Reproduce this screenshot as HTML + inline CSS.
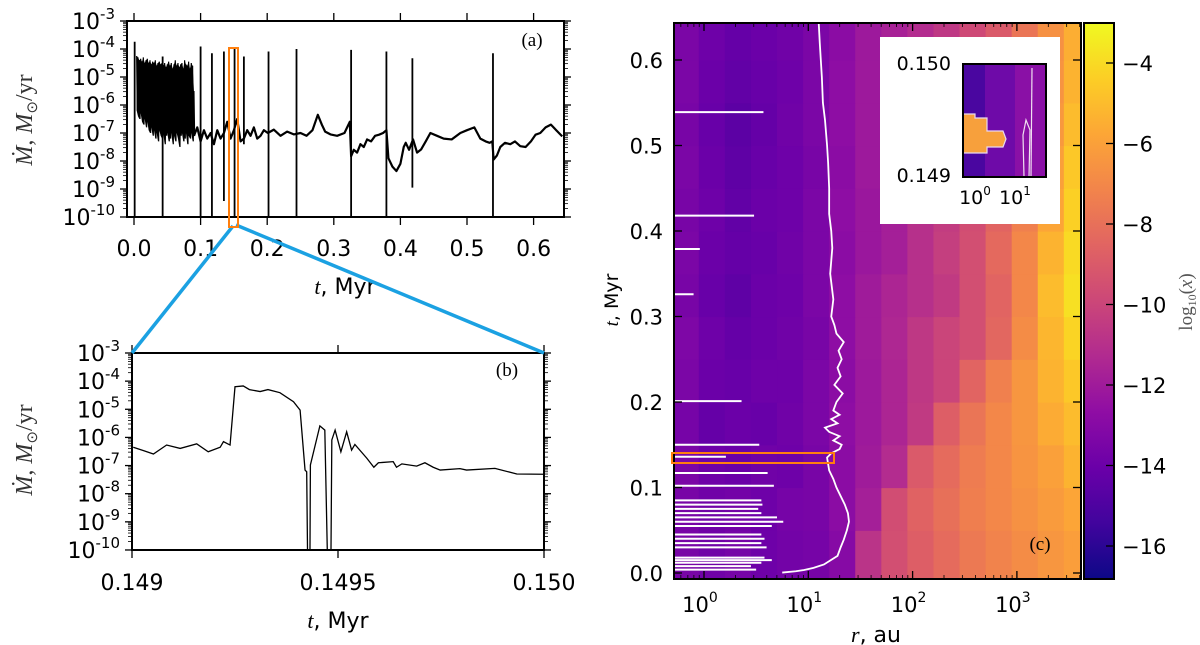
<!DOCTYPE html>
<html><head><meta charset="utf-8">
<style>
html,body{margin:0;padding:0;background:#fff;}
svg{display:block;font-family:"DejaVu Sans","Liberation Sans",sans-serif;}
</style></head>
<body>
<svg id="fig" width="1200" height="645" viewBox="0 0 1200 645" xmlns="http://www.w3.org/2000/svg">
<defs>
<linearGradient id="plasmaV" x1="0" y1="1" x2="0" y2="0">
<stop offset="0" stop-color="#0d0887"/><stop offset="0.1" stop-color="#41049d"/><stop offset="0.2" stop-color="#6a00a8"/><stop offset="0.3" stop-color="#8f0da4"/><stop offset="0.4" stop-color="#b12a90"/><stop offset="0.5" stop-color="#cc4778"/><stop offset="0.6" stop-color="#e16462"/><stop offset="0.7" stop-color="#f2844b"/><stop offset="0.8" stop-color="#fca636"/><stop offset="0.9" stop-color="#fcce25"/><stop offset="1" stop-color="#f0f921"/>
</linearGradient>
<clipPath id="clipA"><rect x="127" y="21" width="437" height="196"/></clipPath>
<clipPath id="clipB"><rect x="132" y="353" width="412" height="197"/></clipPath>
<clipPath id="clipC"><rect x="674" y="23" width="407" height="556"/></clipPath>
</defs>
<g id="panelA"></g>
<g id="panelB"></g>
<g id="panelC"></g>
</svg>
<script>
// ---------- Panel (a) data ----------
const noisyT  = [0.004,0.006,0.008,0.010,0.012,0.014,0.016,0.018,0.020,0.022,0.024,0.026,0.028,0.030,0.032,0.034,0.036,0.038,0.040,0.042,0.044,0.046,0.048,0.050,0.052,0.054,0.056,0.058,0.060,0.062,0.064,0.066,0.068,0.070,0.072,0.074,0.076,0.078,0.080,0.082,0.084,0.086,0.088,0.090];
const noisyHi = [-4.25,-4.3,-4.4,-4.35,-4.45,-4.3,-4.5,-4.4,-4.35,-4.5,-4.4,-4.55,-4.45,-4.5,-4.4,-4.6,-4.5,-4.45,-4.55,-4.5,-4.6,-4.5,-4.65,-4.55,-4.45,-4.6,-4.5,-4.7,-4.55,-4.4,-4.6,-4.5,-4.65,-4.55,-4.5,-4.7,-4.4,-4.55,-4.6,-4.45,-4.7,-4.5,-4.6,-5.5];
const noisyLo = [-6.2,-6.4,-6.5,-6.3,-6.6,-6.7,-6.5,-6.8,-6.6,-6.9,-7.0,-6.8,-7.1,-6.9,-7.2,-7.0,-7.3,-6.9,-7.1,-7.2,-7.0,-7.4,-7.1,-7.0,-7.3,-7.2,-7.0,-7.4,-7.1,-7.3,-7.0,-7.2,-7.5,-7.1,-7.0,-7.3,-7.2,-7.0,-7.4,-7.1,-7.2,-7.0,-7.3,-7.1];
const baseT = [0.090,0.095,0.100,0.105,0.110,0.115,0.120,0.125,0.130,0.135,0.140,0.145,0.150,0.155,0.160,0.165,0.170,0.175,0.180,0.185,0.190,0.195,0.201,0.210,0.220,0.230,0.240,0.250,0.259,0.268,0.276,0.282,0.287,0.295,0.305,0.316,0.324,0.326,0.330,0.335,0.340,0.345,0.350,0.356,0.362,0.368,0.374,0.379,0.382,0.388,0.394,0.400,0.405,0.408,0.413,0.419,0.425,0.431,0.438,0.445,0.455,0.465,0.477,0.490,0.500,0.511,0.520,0.528,0.534,0.538,0.540,0.545,0.550,0.557,0.565,0.572,0.580,0.588,0.596,0.603,0.610,0.618,0.626,0.634,0.643];
const baseL = [-7.1,-6.8,-7.3,-6.9,-7.2,-7.0,-7.4,-6.9,-7.2,-7.0,-6.6,-7.2,-6.9,-6.5,-7.3,-7.2,-6.9,-7.1,-6.8,-7.2,-7.1,-6.9,-7.0,-6.88,-7.1,-6.95,-7.05,-7.0,-7.1,-6.9,-6.35,-6.7,-6.95,-7.05,-7.1,-7.0,-6.6,-7.83,-7.6,-7.7,-7.4,-7.5,-7.23,-7.3,-7.1,-7.06,-7.0,-6.9,-7.9,-8.2,-8.36,-8.1,-7.5,-7.35,-7.6,-7.23,-7.7,-7.59,-7.3,-7.0,-7.1,-7.2,-7.23,-7.0,-6.9,-6.8,-7.2,-7.3,-7.35,-7.3,-7.95,-7.8,-7.5,-7.35,-7.4,-7.3,-7.47,-7.5,-7.3,-7.06,-7.0,-6.8,-6.7,-6.9,-7.12];
const spikeT   = [0.001,0.043,0.100,0.117,0.135,0.151,0.165,0.202,0.244,0.326,0.379,0.418,0.539];
const spikeTop = [-3.74,-4.27,-3.91,-4.15,-4.09,-4.0,-4.27,-4.09,-4.0,-4.03,-4.09,-4.33,-4.15];
const spikeBot = [-10,-10,-10,-10,-9.43,-10,-7.4,-10,-10,-10,-10,-8.95,-10];
const ticksA_x = [0.0,0.1,0.2,0.3,0.4,0.5,0.6];
const ticksA_xLab = ["0.0","0.1","0.2","0.3","0.4","0.5","0.6"];
const decadesY = [-3,-4,-5,-6,-7,-8,-9,-10];
// ---------- Panel (b) data ----------
const bF = [0.003,0.028,0.052,0.084,0.117,0.157,0.185,0.214,0.222,0.238,0.250,0.270,0.285,0.311,0.330,0.359,0.392,0.408,0.420,0.424,0.426,0.430,0.432,0.433,0.456,0.468,0.474,0.477,0.481,0.483,0.485,0.493,0.507,0.521,0.533,0.541,0.570,0.587,0.598,0.634,0.642,0.655,0.691,0.711,0.731,0.748,0.796,0.812,0.881,0.934,0.998];
const bL = [-6.35,-6.47,-6.59,-6.27,-6.39,-6.23,-6.51,-6.35,-6.15,-6.27,-4.20,-4.17,-4.3,-4.37,-4.3,-4.41,-4.73,-5.03,-7.16,-7.22,-10,-10,-10,-6.98,-5.59,-5.74,-10,-10,-10,-10,-6.09,-5.74,-6.51,-5.80,-6.45,-6.25,-6.74,-7.06,-6.90,-6.86,-7.06,-6.94,-7.02,-6.90,-7.06,-7.16,-7.11,-7.16,-7.10,-7.30,-7.31];
const ticksB_x = [0,0.5,1];
const ticksB_xLab = ["0.149","0.1495","0.150"];
// ---------- Panel (c) data ----------
const colLogR = [-0.175,0.075,0.325,0.575,0.825,1.075,1.325,1.575,1.825,2.075,2.325,2.575,2.825,3.075,3.325,3.575];
const rowT = [0.025,0.075,0.125,0.175,0.225,0.275,0.325,0.375,0.425,0.475,0.525,0.575,0.625];
const heat = [
 [-13.5,-13.8,-13.6,-13.9,-13.7,-13.6,-13.0,-10.8,-9.5,-8.8,-8.2,-7.6,-7.2,-6.8,-6.4,-6.1],
 [-13.5,-13.8,-13.7,-13.9,-13.6,-13.5,-12.8,-11.8,-9.6,-8.6,-8.0,-7.4,-7.0,-6.6,-6.2,-5.8],
 [-13.4,-13.9,-14.0,-13.8,-13.9,-13.5,-12.8,-12.0,-11.2,-9.0,-8.2,-7.5,-7.0,-6.5,-6.0,-5.3],
 [-13.6,-14.2,-14.0,-14.1,-13.8,-13.4,-12.7,-12.1,-11.5,-10.5,-8.8,-7.8,-7.0,-6.4,-5.6,-5.0],
 [-13.4,-14.0,-14.1,-13.9,-13.9,-13.4,-12.8,-12.1,-11.5,-10.6,-10.0,-8.5,-7.3,-6.4,-5.3,-4.6],
 [-13.3,-13.9,-14.2,-14.0,-13.8,-13.5,-12.7,-12.0,-11.4,-10.6,-10.0,-9.5,-8.4,-6.8,-5.2,-4.2],
 [-13.5,-14.1,-14.4,-14.0,-13.9,-13.4,-12.7,-12.0,-11.5,-11.0,-10.5,-9.5,-8.5,-7.0,-5.0,-3.8],
 [-13.4,-14.0,-14.2,-14.1,-13.8,-13.4,-12.8,-12.2,-11.8,-11.0,-10.3,-9.5,-8.3,-7.0,-5.3,-4.0],
 [-13.5,-13.9,-14.3,-14.0,-13.9,-13.4,-12.7,-12.2,-11.8,-11.0,-10.4,-9.6,-8.5,-7.3,-5.8,-4.3],
 [-13.4,-14.0,-14.4,-14.1,-13.9,-13.5,-12.8,-12.1,-11.7,-11.0,-10.5,-9.7,-8.7,-7.5,-6.0,-4.6],
 [-13.5,-14.1,-14.5,-14.2,-13.8,-13.4,-12.7,-12.1,-11.6,-11.0,-10.5,-9.8,-8.8,-7.6,-6.3,-5.0],
 [-13.4,-14.0,-14.3,-14.1,-13.9,-13.4,-12.7,-12.1,-11.7,-11.1,-10.6,-9.8,-8.9,-7.7,-6.5,-5.3],
 [-13.4,-13.9,-14.2,-14.0,-13.8,-13.4,-12.8,-12.1,-11.7,-11.2,-10.6,-9.8,-9.0,-7.8,-6.6,-5.5]
];
const contourT = [0.0005,0.002,0.0035,0.006,0.01,0.02,0.03,0.039,0.05,0.06,0.07,0.08,0.09,0.1,0.11,0.12,0.135,0.14,0.145,0.15,0.155,0.16,0.165,0.17,0.175,0.18,0.185,0.19,0.2,0.21,0.22,0.23,0.24,0.25,0.26,0.27,0.28,0.29,0.3,0.32,0.35,0.38,0.4,0.42,0.45,0.48,0.5,0.53,0.55,0.58,0.6,0.62,0.643];
const contourLogR = [0.75,0.88,0.96,1.05,1.15,1.28,1.31,1.34,1.37,1.39,1.38,1.35,1.31,1.27,1.24,1.2,1.18,1.22,1.3,1.32,1.24,1.3,1.2,1.16,1.28,1.22,1.3,1.24,1.27,1.33,1.25,1.31,1.28,1.32,1.29,1.34,1.27,1.25,1.22,1.24,1.21,1.23,1.22,1.2,1.2,1.19,1.18,1.16,1.14,1.13,1.12,1.11,1.1];
const streakT = [0.539,0.418,0.379,0.326,0.201,0.150,0.136,0.117,0.102,0.085,0.080,0.075,0.070,0.065,0.060,0.055,0.045,0.040,0.035,0.030,0.018,0.015,0.012,0.008,0.004];
const streakLogR = [0.57,0.48,-0.04,-0.1,0.36,0.53,0.21,0.61,0.67,0.55,0.56,0.52,0.55,0.70,0.76,0.65,0.55,0.58,0.55,0.60,0.58,0.65,0.55,0.45,0.50];
const ticksC_t = [0.0,0.1,0.2,0.3,0.4,0.5,0.6];
const ticksC_tLab = ["0.0","0.1","0.2","0.3","0.4","0.5","0.6"];
const ticksC_r = [0,1,2,3];
const cbTicks = [-4,-6,-8,-10,-12,-14,-16];
const cbTickLab = ["\u22124","\u22126","\u22128","\u221210","\u221212","\u221214","\u221216"];

const NS="http://www.w3.org/2000/svg";
function mk(tag,attrs,parent){const e=document.createElementNS(NS,tag);for(const k in attrs)e.setAttribute(k,attrs[k]);if(parent)parent.appendChild(e);return e;}

const xA=t=>134+666*t, yA=l=>21+(-3-l)*28;
const xB=f=>132+412*f, yB=l=>353+(-3-l)*28.14;
const xC=lr=>704+104.3*lr, yC=t=>573-855*t;
const yCB=v=>63+(-4-v)*40.25;

const PL=[[13,8,135],[65,4,157],[106,0,168],[143,13,164],[177,42,144],[204,71,120],[225,100,98],[242,132,75],[252,166,54],[252,206,37],[240,249,33]];
function plasma(v){let u=(v+16.8)/13.8;u=Math.max(0,Math.min(1,u))*10;const i=Math.min(9,Math.floor(u)),f=u-i;const a=PL[i],b=PL[i+1];return `rgb(${Math.round(a[0]+(b[0]-a[0])*f)},${Math.round(a[1]+(b[1]-a[1])*f)},${Math.round(a[2]+(b[2]-a[2])*f)})`;}

function logAxisTicks(g,x0,x1,yOf){
  for(let d=-10;d<=-3;d++){
    const yy=yOf(d);
    mk('line',{x1:x0-7,y1:yy,x2:x0,y2:yy,stroke:'#000','stroke-width':1.3},g);
    mk('line',{x1:x1,y1:yy,x2:x1+7,y2:yy,stroke:'#000','stroke-width':1.3},g);
    if(d<-3){for(let m=2;m<=9;m++){const ym=yOf(d+Math.log10(m));mk('line',{x1:x0-4,y1:ym,x2:x0,y2:ym,stroke:'#000','stroke-width':0.8},g);mk('line',{x1:x1,y1:ym,x2:x1+4,y2:ym,stroke:'#000','stroke-width':0.8},g);}}
  }
  decadesY.forEach(d=>{
    const t=mk('text',{x:x0-12,y:yOf(d)+8,'text-anchor':'end','font-size':22,fill:'#000'},g);
    
    
    t.textContent='10';
    const s=mk('tspan',{dy:-10,'font-size':15},t);s.textContent=String(d);
  });
}
function yTitle(g,x,y){
  const t=mk('text',{transform:`translate(${x},${y}) rotate(-90)`,'text-anchor':'middle','font-size':24,fill:'#333','font-family':'"Liberation Serif",serif'},g);
  
  
  const a=mk('tspan',{'font-style':'italic'},t);a.textContent='Ṁ';
  const b=mk('tspan',{},t);b.textContent=', ';
  const c=mk('tspan',{'font-style':'italic'},t);c.textContent='M';
  const d=mk('tspan',{'font-size':15,dy:5},t);d.textContent='⊙';
  const e=mk('tspan',{dy:-5},t);e.textContent='/yr';
}
function xTitle(g,x,y,v,u){
  const t=mk('text',{x:x,y:y,'text-anchor':'middle','font-size':22,fill:'#000'},g);
  
  
  const a=mk('tspan',{'font-style':'italic','font-family':'"Liberation Serif",serif'},t);a.textContent=v;
  const b=mk('tspan',{},t);b.textContent=', '+u;
}

// ---------- Panel A ----------
(function(){
  const g=document.getElementById('panelA');
  const plot=mk('g',{'clip-path':'url(#clipA)'},g);
  
  
  let pts=[];
  noisyT.forEach((t,i)=>{pts.push(`${xA(t)},${yA(noisyHi[i])}`);pts.push(`${xA(t+0.001)},${yA(noisyLo[i])}`);});
  const up=noisyT.map((t,i)=>`${xA(t)},${yA(noisyHi[i])}`), lo=noisyT.map((t,i)=>`${xA(t)},${yA(noisyLo[i])}`).reverse();
  const band=mk('polygon',{points:up.concat(lo).join(' '),fill:'#000'},plot);
  
  
  const zz=mk('polyline',{points:pts.join(' '),fill:'none',stroke:'#000','stroke-width':1.2},plot);
  
  
  const base=mk('polyline',{points:baseT.map((t,i)=>`${xA(t)},${yA(baseL[i])}`).join(' '),fill:'none',stroke:'#000','stroke-width':2.2,'stroke-linejoin':'round'},plot);
  
  
  spikeT.forEach((t,i)=>{
    const l=mk('line',{x1:xA(t),y1:yA(spikeTop[i]),x2:xA(t),y2:yA(spikeBot[i]),stroke:'#000','stroke-width':1.8},plot);
    
    
  });
  const fr=mk('rect',{x:127,y:21,width:437,height:196,fill:'none',stroke:'#000','stroke-width':2},g);
  
  
  ticksA_x.forEach((t,i)=>{
    mk('line',{x1:xA(t),y1:217,x2:xA(t),y2:225,stroke:'#000','stroke-width':1.3},g);
    mk('line',{x1:xA(t),y1:13,x2:xA(t),y2:21,stroke:'#000','stroke-width':1.3},g);
    const tx=mk('text',{x:xA(t),y:256,'text-anchor':'middle','font-size':22,fill:'#000'},g);
    
    
    tx.textContent=ticksA_xLab[i];
  });
  logAxisTicks(g,127,564,yA);
  yTitle(g,32,120);
  xTitle(g,345,294,'t','Myr');
  const lab=mk('text',{x:532,y:46,'text-anchor':'middle','font-size':19,'font-family':'"Liberation Serif",serif',fill:'#000'},g);
  
  
  lab.textContent='(a)';
})();

// ---------- zoom connectors ----------
(function(){
  const s=document.getElementById('fig');
  const g=mk('g',{},s);
  
  
  mk('line',{x1:233,y1:226,x2:132,y2:353,stroke:'#1ba1e2','stroke-width':3.5},g);
  mk('line',{x1:236,y1:225,x2:544,y2:353,stroke:'#1ba1e2','stroke-width':3.5},g);
  const r=mk('rect',{x:229,y:48,width:9,height:179,fill:'none',stroke:'#ff7f0e','stroke-width':2},g);
  
  
})();

// ---------- Panel B ----------
(function(){
  const g=document.getElementById('panelB');
  const plot=mk('g',{'clip-path':'url(#clipB)'},g);
  const ln=mk('polyline',{points:bF.map((f,i)=>`${xB(f)},${yB(bL[i])}`).join(' '),fill:'none',stroke:'#000','stroke-width':1.3},plot);
  
  
  const fr=mk('rect',{x:132,y:353,width:412,height:197,fill:'none',stroke:'#000','stroke-width':2},g);
  
  
  ticksB_x.forEach((f,i)=>{
    mk('line',{x1:xB(f),y1:550,x2:xB(f),y2:558,stroke:'#000','stroke-width':1.3},g);
    mk('line',{x1:xB(f),y1:345,x2:xB(f),y2:353,stroke:'#000','stroke-width':1.3},g);
    const tx=mk('text',{x:xB(f),y:590,'text-anchor':'middle','font-size':22,fill:'#000'},g);
    
    
    tx.textContent=ticksB_xLab[i];
  });
  logAxisTicks(g,132,544,yB);
  yTitle(g,32,450);
  xTitle(g,338,628,'t','Myr');
  const lab=mk('text',{x:507,y:376,'text-anchor':'middle','font-size':19,'font-family':'"Liberation Serif",serif',fill:'#000'},g);
  
  
  lab.textContent='(b)';
})();

// ---------- Panel C ----------
(function(){
  const g=document.getElementById('panelC');
  const plot=mk('g',{'clip-path':'url(#clipC)'},g);
  const hm=mk('g',{},plot);
  
  
  const dr=0.125, dt=0.025;
  rowT.forEach((t,i)=>{
    colLogR.forEach((lr,j)=>{
      const x0=xC(lr-dr)-(j===0?40:0), x1=xC(lr+dr)+(j===colLogR.length-1?40:0);
      const y0=yC(t+dt)-(i===rowT.length-1?40:0), y1=yC(t-dt)+(i===0?40:0);
      const c=mk('rect',{x:x0,y:y0,width:x1-x0+0.6,height:y1-y0+0.6,fill:plasma(heat[i][j])},hm);
      
      
    });
  });
  streakT.forEach((t,i)=>{
    const l=mk('line',{x1:674,y1:yC(t),x2:xC(streakLogR[i]),y2:yC(t),stroke:'#fff','stroke-width':2},plot);
    
    
  });
  const ct=mk('polyline',{points:contourT.map((t,i)=>`${xC(contourLogR[i])},${yC(t)}`).join(' '),fill:'none',stroke:'#fff','stroke-width':1.8},plot);
  
  
  const fr=mk('rect',{x:674,y:23,width:407,height:556,fill:'none',stroke:'#000','stroke-width':2},g);
  
  
  ticksC_t.forEach((t,i)=>{
    mk('line',{x1:674,y1:yC(t),x2:682,y2:yC(t),stroke:'#000','stroke-width':1.3},g);
    mk('line',{x1:1073,y1:yC(t),x2:1081,y2:yC(t),stroke:'#000','stroke-width':1.3},g);
    const tx=mk('text',{x:663,y:yC(t)+8,'text-anchor':'end','font-size':21,fill:'#000'},g);
    
    
    tx.textContent=ticksC_tLab[i];
  });
  for(let d=-1;d<=3;d++){for(let m=1;m<=9;m++){const lr=d+Math.log10(m);const xx=xC(lr);if(xx<674||xx>1081)continue;const L=m===1?8:4;
    mk('line',{x1:xx,y1:579,x2:xx,y2:579-L,stroke:'#000','stroke-width':m===1?1.3:0.8},g);
    mk('line',{x1:xx,y1:23,x2:xx,y2:23+L,stroke:'#000','stroke-width':m===1?1.3:0.8},g);}}
  ticksC_r.forEach(d=>{
    const tx=mk('text',{x:xC(d)-4,y:612,'text-anchor':'middle','font-size':21,fill:'#000'},g);
    
    
    tx.textContent='10';
    const s=mk('tspan',{dy:-10,'font-size':14},tx);s.textContent=String(d);
  });
  xTitle(g,876,642,'r','au');
  const yt=mk('text',{transform:'translate(618,300) rotate(-90)','text-anchor':'middle','font-size':19,fill:'#000'},g);
  
  
  const a=mk('tspan',{'font-style':'italic','font-family':'"Liberation Serif",serif'},yt);a.textContent='t';
  const b=mk('tspan',{},yt);b.textContent=', Myr';
  const ob=mk('rect',{x:672,y:453,width:162,height:10,fill:'none',stroke:'#ff7f0e','stroke-width':2},g);
  
  
  const lab=mk('text',{x:1040,y:550,'text-anchor':'middle','font-size':19,'font-family':'"Liberation Serif",serif',fill:'#000'},g);
  
  
  lab.textContent='(c)';

  const ins=mk('g',{},g);
  
  
  mk('rect',{x:880,y:37,width:180,height:187,fill:'#fff'},ins);
  mk('rect',{x:963,y:64,width:83,height:113,fill:'#4a06a0'},ins);
  mk('rect',{x:985,y:64,width:61,height:113,fill:'#6e0aa8'},ins);
  mk('rect',{x:1015,y:64,width:31,height:113,fill:'#8a10a6'},ins);
  mk('polygon',{points:'963,114 975,114 975,118 987,118 987,131 1003,131 1006,139 1003,147 987,147 987,153 963,153',fill:'#f7a03c',stroke:'#e8d8f0','stroke-width':1.2},ins);
  mk('line',{x1:1032,y1:68,x2:1031,y2:177,stroke:'#f0e0f0','stroke-width':1.2},ins);
  mk('polyline',{points:'1024,177 1023,135 1026,120 1030,130 1029,177',fill:'none',stroke:'#f0e0f0','stroke-width':1.2},ins);
  mk('rect',{x:963,y:64,width:83,height:113,fill:'none',stroke:'#000','stroke-width':2},ins);
  const l1=mk('text',{x:951,y:70,'text-anchor':'end','font-size':19,fill:'#000'},ins);l1.textContent='0.150';
  const l2=mk('text',{x:951,y:182,'text-anchor':'end','font-size':19,fill:'#000'},ins);l2.textContent='0.149';
  [[975,'0'],[1015,'1']].forEach(p=>{const t=mk('text',{x:p[0],y:204,'text-anchor':'middle','font-size':19,fill:'#000'},ins);t.textContent='10';const s=mk('tspan',{dy:-9,'font-size':12},t);s.textContent=p[1];});

  const cb=mk('g',{},g);
  
  
  mk('rect',{x:1084,y:23,width:30,height:556,fill:'url(#plasmaV)',stroke:'#000','stroke-width':2},cb);
  cbTicks.forEach((v,i)=>{
    mk('line',{x1:1106,y1:yCB(v),x2:1114,y2:yCB(v),stroke:'#000','stroke-width':1.3},cb);
    const t=mk('text',{x:1122,y:yCB(v)+8,'font-size':21,fill:'#000'},cb);
    
    
    t.textContent=cbTickLab[i];
  });
  const ct2=mk('text',{transform:'translate(1192,302) rotate(-90)','text-anchor':'middle','font-size':19,fill:'#555','font-family':'"Liberation Serif",serif'},cb);
  
  
  const c1=mk('tspan',{},ct2);c1.textContent='log';
  const c2=mk('tspan',{'font-size':12,dy:4},ct2);c2.textContent='10';
  const c3=mk('tspan',{dy:-4},ct2);c3.textContent='(';
  const c4=mk('tspan',{'font-style':'italic'},ct2);c4.textContent='x';
  const c5=mk('tspan',{},ct2);c5.textContent=')';
})();
</script>
</body></html>
